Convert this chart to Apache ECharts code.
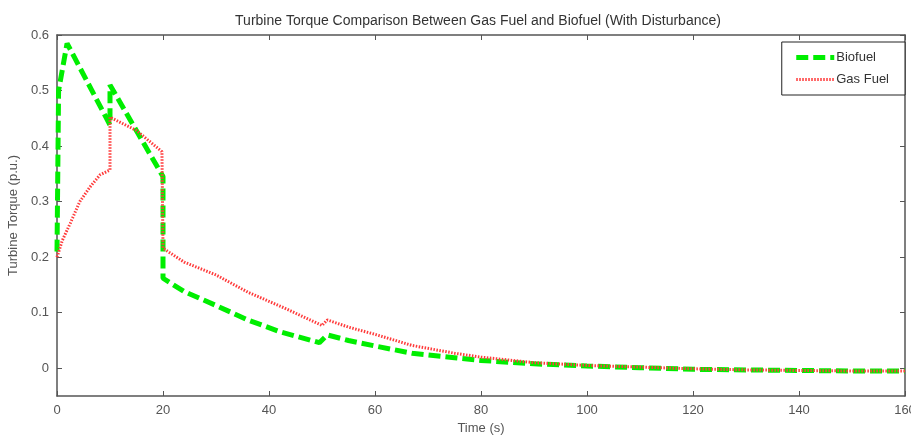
<!DOCTYPE html>
<html>
<head>
<meta charset="utf-8">
<title>Turbine Torque Comparison</title>
<script src="https://cdn.jsdelivr.net/npm/echarts@6/dist/echarts.min.js"></script>
<style>
    html, body { margin: 0; padding: 0; background: #fff; }
    #chart { width: 911px; height: 437px; }
</style>
</head>
<body>
<div id="chart"></div>
<script>
// values (time in s, torque in p.u.)
const bioTime = [0, 0.3, 1.9, 10, 10, 20, 20, 24, 30, 36, 42, 49.5, 51, 55, 60, 67, 75, 80, 90, 100, 110, 120, 130, 140, 150, 160];
const bioTorque = [0.21, 0.5, 0.585, 0.438, 0.51, 0.345, 0.162, 0.138, 0.113, 0.087, 0.066, 0.046, 0.06, 0.05, 0.04, 0.027, 0.019, 0.014, 0.008, 0.004, 0.001, -0.002, -0.003, -0.004, -0.005, -0.005];

const gasTime = [0, 1, 2.5, 4.3, 6.2, 8.1, 10, 10, 15, 19.8, 20, 24, 30, 36, 43, 50, 51, 55, 60, 67, 75, 80, 90, 100, 110, 120, 130, 140, 150, 160];
const gasTorque = [0.2, 0.23, 0.261, 0.3, 0.326, 0.348, 0.357, 0.452, 0.428, 0.39, 0.216, 0.191, 0.168, 0.137, 0.108, 0.077, 0.087, 0.074, 0.061, 0.041, 0.027, 0.02, 0.01, 0.005, 0.002, -0.001, -0.003, -0.004, -0.005, -0.005];

const yTicks = [0, 0.1, 0.2, 0.3, 0.4, 0.5, 0.6];

const pairs = (xs, ys) => xs.map((x, i) => [x, ys[i]]);

const axisColor = '#555';
const font = 'Liberation Sans, Arial, sans-serif';

const chart = echarts.init(document.getElementById('chart'));

// box axes (top / right) only draw the frame and inner ticks
const frameTick = { show: true, inside: true, length: 5, lineStyle: { color: axisColor } };

chart.setOption({
    animation: false,
    backgroundColor: '#fff',
    title: {
        text: 'Turbine Torque Comparison Between Gas Fuel and Biofuel (With Disturbance)',
        left: 473,
        top: 9,
        textAlign: 'center',
        textStyle: { fontFamily: font, fontSize: 14, fontWeight: 'normal', color: '#333' }
    },
    legend: {
        right: 6,
        top: 42,
        orient: 'vertical',
        itemWidth: 38,
        itemHeight: 10,
        itemGap: 9,
        padding: [9, 16, 9, 12],
        borderColor: '#222',
        borderWidth: 1,
        backgroundColor: '#fff',
        itemStyle: { opacity: 0 },
        lineStyle: { width: 'inherit' },
        textStyle: { fontFamily: font, fontSize: 13, color: '#333', padding: [0, 0, 0, -3] },
        data: ['Biofuel', 'Gas Fuel']
    },
    grid: { left: 57, right: 6, top: 35, bottom: 41, outerBoundsMode: 'none' },
    xAxis: [
        {
            type: 'value',
            min: 0, max: 160, interval: 20,
            name: 'Time (s)',
            nameLocation: 'middle',
            nameGap: 26,
            nameTextStyle: { fontFamily: font, fontSize: 13, color: axisColor },
            axisLine: { onZero: false, lineStyle: { color: axisColor, width: 1.5 } },
            axisTick: frameTick,
            axisLabel: { fontFamily: font, fontSize: 13, color: axisColor, margin: 8 },
            splitLine: { show: false }
        },
        {
            type: 'value',
            position: 'top',
            min: 0, max: 160, interval: 20,
            axisLine: { show: true, onZero: false, lineStyle: { color: axisColor, width: 1.5 } },
            axisTick: frameTick,
            axisLabel: { show: false },
            splitLine: { show: false }
        }
    ],
    yAxis: [
        {
            type: 'value',
            min: -0.05, max: 0.6,
            name: 'Turbine Torque (p.u.)',
            nameLocation: 'middle',
            nameGap: 31,
            nameTextStyle: { fontFamily: font, fontSize: 13, color: axisColor },
            axisLine: { show: true, onZero: false, lineStyle: { color: axisColor, width: 1.5 } },
            axisTick: Object.assign({ customValues: yTicks }, frameTick),
            axisLabel: { fontFamily: font, fontSize: 13, color: axisColor, margin: 8, customValues: yTicks },
            splitLine: { show: false }
        },
        {
            type: 'value',
            position: 'right',
            min: -0.05, max: 0.6,
            axisLine: { show: true, onZero: false, lineStyle: { color: axisColor, width: 1.5 } },
            axisTick: Object.assign({ customValues: yTicks }, frameTick),
            axisLabel: { show: false },
            splitLine: { show: false }
        }
    ],
    series: [
        {
            name: 'Biofuel',
            type: 'line',
            showSymbol: false,
            symbol: 'none',
            data: pairs(bioTime, bioTorque),
            lineStyle: { color: '#00ee00', width: 5, type: [12, 5] },
            itemStyle: { color: '#00ee00' },
            z: 3
        },
        {
            name: 'Gas Fuel',
            type: 'line',
            showSymbol: false,
            symbol: 'none',
            data: pairs(gasTime, gasTorque),
            lineStyle: { color: '#ff3b3b', width: 3, type: [1.5, 1.5] },
            itemStyle: { color: '#ff3b3b' },
            z: 4
        }
    ]
});
</script>
</body>
</html>
